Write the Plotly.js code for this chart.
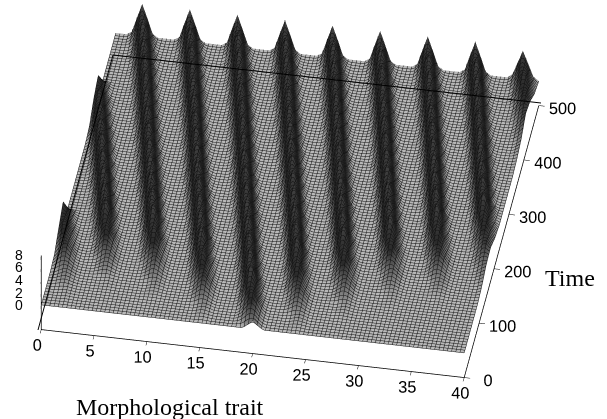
<!DOCTYPE html>
<html><head><meta charset="utf-8">
<script src="https://cdn.plot.ly/plotly-3.0.1.min.js"></script>
<style>html,body{margin:0;padding:0;background:#fff}</style></head>
<body><div id="chart" style="width:607px;height:419px"></div>
<script>
// trait grid
var traitValues = [0,.5,1,1.5,2,2.5,3,3.5,4,4.5,5,5.5,6,6.5,7,7.5,8,8.5,9,9.5,10,10.5,11,11.5,12,12.5,13,13.5,14,14.5,15,15.5,16,16.5,17,17.5,18,18.5,19,19.5,20,20.5,21,21.5,22,22.5,23,23.5,24,24.5,25,25.5,26,26.5,27,27.5,28,28.5,29,29.5,30,30.5,31,31.5,32,32.5,33,33.5,34,34.5,35,35.5,36,36.5,37,37.5,38,38.5,39,39.5,40];
var timeValues = [0,29.4,58.8,88.2,117.6,147.1,176.5,205.9,235.3,264.7,294.1,323.5,352.9,382.4,411.8,441.2,470.6,500];
var xTicks = [0,5,10,15,20,25,30,35,40];
var yTicks = [0,100,200,300,400,500];
var zTicks = [0,2,4,6,8];
var zTickLabels = ['0','2','4','6','8'];
var row00 = [0,0,0,0,0,0,0,0,0,0,0,0,0,0,0,0,0,0,0,0,0,0,0,0,0,0,0,0,0,0,0,0,0,0,0,0,0,0,0,.6,1.2,.6,0,0,0,0,0,0,0,0,0,0,0,0,0,0,0,0,0,0,0,0,0,0,0,0,0,0,0,0,0,0,0,0,0,0,0,0,0,0,0];
var row01 = [0,0,0,.1,.2,.1,0,0,0,0,0,0,0,0,0,0,0,0,0,0,0,0,0,0,0,0,0,0,0,.35,.6,.35,0,0,0,0,0,.5,2.1,3.5,2.1,.5,0,0,0,0,0,.3,.5,.3,0,0,0,0,0,0,0,0,0,0,0,0,0,0,0,0,0,0,0,0,0,0,0,0,0,0,0,0,0,0,0];
var row02 = [0,.15,.6,1,.6,.15,0,0,0,0,.1,.2,.1,0,0,0,0,0,0,.3,.5,.3,0,0,0,0,0,.35,1.5,2.5,1.5,.35,0,0,0,0,.5,2.9,5.2,2.9,.5,0,0,0,0,.3,1.3,2.2,1.3,.3,0,0,0,0,0,.2,.4,.2,0,0,0,0,0,0,0,0,0,0,0,0,0,0,0,0,0,0,0,0,0,0,0];
var row03 = [.35,1.5,2.5,1.5,.35,0,0,0,.2,.9,1.5,.9,.2,0,0,0,0,.3,1.2,2,1.2,.3,0,0,0,0,.6,2.4,4,2.4,.6,0,0,0,0,.5,2.9,5.2,2.9,.5,0,0,0,0,.5,2.3,3.8,2.3,.5,0,0,0,0,.25,1.1,1.8,1.1,.25,0,0,0,0,0,.2,.3,.2,0,0,0,0,0,0,0,.1,0,0,0,0,0,0,0];
var row04 = [2.1,3.5,2.1,.5,0,0,0,.5,2.1,3.5,2.1,.5,0,0,0,0,.6,2.4,4,2.4,.6,0,0,0,0,.5,2.9,5.2,2.9,.5,0,0,0,0,.5,2.9,5.2,2.9,.5,0,0,0,0,.5,2.9,5.2,2.9,.5,0,0,0,0,.5,2.3,3.8,2.3,.5,0,0,0,0,.2,.9,1.5,.9,.2,0,0,0,0,.1,.5,.8,.5,.1,0,0,0,0,0,.4];
var row05 = [3.8,2.3,.5,0,0,0,.5,2.9,5.2,2.9,.5,0,0,0,0,.5,2.9,5.2,2.9,.5,0,0,0,0,.5,2.9,5.2,2.9,.5,0,0,0,0,.5,2.9,5.2,2.9,.5,0,0,0,0,.5,2.9,5.2,2.9,.5,0,0,0,0,.5,2.9,5.2,2.9,.5,0,0,0,0,.5,2.1,3.5,2.1,.5,0,0,0,0,.35,1.5,2.5,1.5,.35,0,0,0,0,.2,.8,1.3];
var row06 = [0,0,0,0,0,.5,2.9,5.2,2.9,.5,0,0,0,0,.5,2.9,5.2,2.9,.5,0,0,0,0,.5,2.9,5.2,2.9,.5,0,0,0,0,.5,2.9,5.2,2.9,.5,0,0,0,0,.5,2.9,5.2,2.9,.5,0,0,0,0,.5,2.9,5.2,2.9,.5,0,0,0,0,.5,2.9,5.2,2.9,.5,0,0,0,0,.6,2.4,4,2.4,.6,0,0,0,0,.35,1.5,2.5,1.5];
var row07 = [0,0,0,0,.5,2.9,5.2,2.9,.5,0,0,0,0,.5,2.9,5.2,2.9,.5,0,0,0,0,.5,2.9,5.2,2.9,.5,0,0,0,0,.5,2.9,5.2,2.9,.5,0,0,0,0,.5,2.9,5.2,2.9,.5,0,0,0,0,.5,2.9,5.2,2.9,.5,0,0,0,0,.5,2.9,5.2,2.9,.5,0,0,0,0,.5,2.9,5.2,2.9,.5,0,0,0,0,.5,2.1,3.5,2.1,.5];
var row08 = [0,0,0,.5,2.9,5.2,2.9,.5,0,0,0,0,.5,2.9,5.2,2.9,.5,0,0,0,0,.5,2.9,5.2,2.9,.5,0,0,0,0,.5,2.9,5.2,2.9,.5,0,0,0,0,.5,2.9,5.2,2.9,.5,0,0,0,0,.5,2.9,5.2,2.9,.5,0,0,0,0,.5,2.9,5.2,2.9,.5,0,0,0,0,.5,2.9,5.2,2.9,.5,0,0,0,0,.5,2.9,5.2,2.9,.5,0];
var row09 = [0,0,.5,2.9,5.2,2.9,.5,0,0,0,0,.5,2.9,5.2,2.9,.5,0,0,0,0,.5,2.9,5.2,2.9,.5,0,0,0,0,.5,2.9,5.2,2.9,.5,0,0,0,0,.5,2.9,5.2,2.9,.5,0,0,0,0,.5,2.9,5.2,2.9,.5,0,0,0,0,.5,2.9,5.2,2.9,.5,0,0,0,0,.5,2.9,5.2,2.9,.5,0,0,0,0,.5,2.9,5.2,2.9,.5,0,0];
var row10 = [0,.6,2.9,4.8,2.9,.6,0,0,0,0,.5,2.9,5.2,2.9,.5,0,0,0,0,.5,2.9,5.2,2.9,.5,0,0,0,0,.5,2.9,5.2,2.9,.5,0,0,0,0,.5,2.9,5.2,2.9,.5,0,0,0,0,.5,2.9,5.2,2.9,.5,0,0,0,0,.5,2.9,5.2,2.9,.5,0,0,0,0,.5,2.9,5.2,2.9,.5,0,0,0,0,.5,2.9,5.2,2.9,.5,0,0,0];
var row11 = [.5,2.7,4.5,2.7,.5,0,0,0,0,.5,2.9,5.2,2.9,.5,0,0,0,0,.5,2.9,5.2,2.9,.5,0,0,0,0,.5,2.9,5.2,2.9,.5,0,0,0,0,.5,2.9,5.2,2.9,.5,0,0,0,0,.5,2.9,5.2,2.9,.5,0,0,0,0,.5,2.9,5.2,2.9,.5,0,0,0,0,.5,2.9,5.2,2.9,.5,0,0,0,0,.5,2.9,5.2,2.9,.5,0,0,0,0];
var row12 = [2.4,4,2.4,.4,0,0,0,0,.5,2.9,5.2,2.9,.5,0,0,0,0,.5,2.9,5.2,2.9,.5,0,0,0,0,.5,2.9,5.2,2.9,.5,0,0,0,0,.5,2.9,5.2,2.9,.5,0,0,0,0,.5,2.9,5.2,2.9,.5,0,0,0,0,.5,2.9,5.2,2.9,.5,0,0,0,0,.5,2.9,5.2,2.9,.5,0,0,0,0,.5,2.9,5.2,2.9,.5,0,0,0,0,.3];
var row13 = [3.5,2,.3,0,0,0,0,.5,2.9,5.2,2.9,.5,0,0,0,0,.5,2.9,5.2,2.9,.5,0,0,0,0,.5,2.9,5.2,2.9,.5,0,0,0,0,.5,2.9,5.2,2.9,.5,0,0,0,0,.5,2.9,5.2,2.9,.5,0,0,0,0,.5,2.9,5.2,2.9,.5,0,0,0,0,.5,2.9,5.2,2.9,.5,0,0,0,0,.5,2.9,5.2,2.9,.5,0,0,0,0,.25,1];
var row14 = [0,0,0,0,0,0,.5,2.9,5.2,2.9,.5,0,0,0,0,.5,2.9,5.2,2.9,.5,0,0,0,0,.5,2.9,5.2,2.9,.5,0,0,0,0,.5,2.9,5.2,2.9,.5,0,0,0,0,.5,2.9,5.2,2.9,.5,0,0,0,0,.5,2.9,5.2,2.9,.5,0,0,0,0,.5,2.9,5.2,2.9,.5,0,0,0,0,.5,2.9,5.2,2.9,.5,0,0,0,0,.35,1.5,2.5];
var row15 = [0,0,0,0,0,.5,2.9,5.2,2.9,.5,0,0,0,0,.5,2.9,5.2,2.9,.5,0,0,0,0,.5,2.9,5.2,2.9,.5,0,0,0,0,.5,2.9,5.2,2.9,.5,0,0,0,0,.5,2.9,5.2,2.9,.5,0,0,0,0,.5,2.9,5.2,2.9,.5,0,0,0,0,.5,2.9,5.2,2.9,.5,0,0,0,0,.5,2.9,5.2,2.9,.5,0,0,0,0,.4,1.9,3.2,1.9];
var row16 = [0,0,0,0,.5,2.9,5.2,2.9,.5,0,0,0,0,.5,2.9,5.2,2.9,.5,0,0,0,0,.5,2.9,5.2,2.9,.5,0,0,0,0,.5,2.9,5.2,2.9,.5,0,0,0,0,.5,2.9,5.2,2.9,.5,0,0,0,0,.5,2.9,5.2,2.9,.5,0,0,0,0,.5,2.9,5.2,2.9,.5,0,0,0,0,.5,2.9,5.2,2.9,.5,0,0,0,0,.5,2.3,3.8,2.3,.5];
var row17 = [0,0,0,.5,2.9,5.2,2.9,.5,0,0,0,0,.5,2.9,5.2,2.9,.5,0,0,0,0,.5,2.9,5.2,2.9,.5,0,0,0,0,.5,2.9,5.2,2.9,.5,0,0,0,0,.5,2.9,5.2,2.9,.5,0,0,0,0,.5,2.9,5.2,2.9,.5,0,0,0,0,.5,2.9,5.2,2.9,.5,0,0,0,0,.5,2.9,5.2,2.9,.5,0,0,0,0,.6,2.6,4.6,2.6,.6,0];
var density = [row00,row01,row02,row03,row04,row05,row06,row07,row08,row09,row10,row11,row12,row13,row14,row15,row16,row17];

var axisBase = {showgrid:false, zeroline:false, showbackground:false, showline:true, linecolor:'#000', linewidth:1.5,
  ticks:'inside', ticklen:6, tickcolor:'#000', tickwidth:1, showspikes:false, title:{text:''}, tickangle:0,
  tickfont:{family:'Liberation Sans, Arial, sans-serif', size:14, color:'#000'}};
var ax = function(extra){ return Object.assign({}, axisBase, extra); };
var d = 1.8, cx=.0788, cy=-.0762, cz=-.1058, k=2.05;
var px = function(v){ return v/607; };
var py = function(v){ return 1-v/419; };
var labelFont = {family:'Liberation Sans, Arial, sans-serif', size:14, color:'#000'};
var zLabelY = [305,293,280,267,255];
var annotations = [
  {xref:'paper',yref:'paper',x:px(170),y:py(407),xanchor:'center',yanchor:'middle',text:'Morphological trait',showarrow:false,font:{family:'Liberation Serif, serif',size:24,color:'#000'}},
  {xref:'paper',yref:'paper',x:px(570),y:py(278),xanchor:'center',yanchor:'middle',text:'Time',showarrow:false,font:{family:'Liberation Serif, serif',size:24,color:'#000'}}
];
zTickLabels.forEach(function(t,i){
  annotations.push({xref:'paper',yref:'paper',x:px(19),y:py(zLabelY[i]),xanchor:'center',yanchor:'middle',text:t,showarrow:false,font:labelFont});
});
var layout = {
  width:607, height:419, margin:{l:0,r:0,t:0,b:0}, paper_bgcolor:'#fff', showlegend:false,
  scene:{domain:{x:[0,1],y:[0,1]}, aspectmode:'manual', aspectratio:{x:k,y:k,z:.225*k},
    camera:{projection:{type:'orthographic'}, up:{x:0,y:0,z:1}, center:{x:cx,y:cy,z:cz}, eye:{x:.133*d+cx,y:-.754*d+cy,z:.643*d+cz}},
    xaxis:ax({range:[0,40], tickmode:'array', tickvals:xTicks}),
    yaxis:ax({range:[0,500], tickmode:'array', tickvals:yTicks}),
    zaxis:ax({range:[-4,8], tickmode:'array', tickvals:zTicks, showticklabels:false})
  },
  shapes:[
    {type:'line',xref:'paper',yref:'paper',x0:px(113),y0:py(55),x1:px(541),y1:py(103),line:{color:'#000',width:1}},
    {type:'line',xref:'paper',yref:'paper',x0:px(38),y0:py(330),x1:px(113),y1:py(55),line:{color:'#000',width:1}}
  ],
  annotations:annotations
};
Plotly.newPlot('chart',[{type:'surface', x:traitValues, y:timeValues, z:density, showscale:false,
    cmin:0, cmax:5.2,
    colorscale:[[0,'#b8b8b8'],[.1,'#8c8c8c'],[.5,'#2a2a2a'],[1,'#444']], hoverinfo:'skip',
    lighting:{ambient:1,diffuse:0,specular:0,fresnel:0,roughness:1},
    contours:{x:{show:true,start:0,end:40,size:.4,color:'#111',width:1},
              y:{show:true,start:0,end:500,size:5,color:'#111',width:1},
              z:{show:false}}}], layout, {displayModeBar:false});
</script></body></html>
